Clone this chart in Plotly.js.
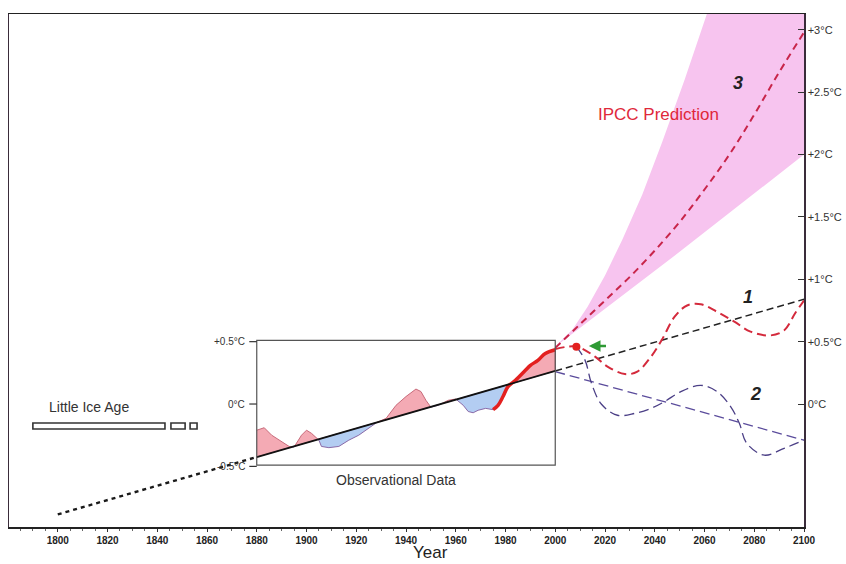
<!DOCTYPE html>
<html>
<head>
<meta charset="utf-8">
<script src="https://cdn.plot.ly/plotly-3.0.1.min.js"></script>
<style>html,body{margin:0;padding:0;background:#fff;}#chart{width:846px;height:564px;}</style>
</head>
<body>
<div id="chart"></div>
<script>
// ---------- data ----------
const xTickYears = [1800,1820,1840,1860,1880,1900,1920,1940,1960,1980,2000,2020,2040,2060,2080,2100];
const yTickValues = [0,0.5,1,1.5,2,2.5,3];
const yTickLabels = ['0°C','+0.5°C','+1°C','+1.5°C','+2°C','+2.5°C','+3°C'];
const insetTickValues = [-0.5,0,0.5];
const insetTickLabels = ['-0.5°C','0°C','+0.5°C'];

// observational anomaly (inset)
const obsYears = [1880,1883,1886,1890,1893,1895,1898,1900,1902,1905,1906,1909,1913,1917,1921,1925,1928,1932,1936,1940,1944,1946,1948,1950,1953,1957,1960,1963,1965,1967,1969,1972,1975,1977,1979,1981,1984,1988,1990,1993,1996,2000];
const obsTemps = [-0.21,-0.19,-0.25,-0.30,-0.34,-0.345,-0.25,-0.21,-0.235,-0.29,-0.34,-0.35,-0.34,-0.29,-0.25,-0.195,-0.15,-0.115,-0.01,0.06,0.12,0.10,0.03,-0.025,-0.01,0.03,0.04,-0.01,-0.06,-0.07,-0.05,-0.035,-0.045,-0.01,0.06,0.14,0.19,0.27,0.31,0.35,0.405,0.435];
const recentStartYear = 1975;   // thick red part of the record

// long-term linear trend
const trendYears = [1800,2100];
const trendTemps = [-0.885,0.84];
const insetYears = [1880,2000];
const insetTemps = [-0.49,0.51];

// scenario 1 (red wave)
const s1Years = [2000,2008.5,2016,2021,2028,2033,2038.5,2043,2048,2053,2058.5,2065,2072,2078.5,2086.5,2092,2096.5,2100];
const s1Temps = [0.44,0.46,0.38,0.30,0.24,0.26,0.38,0.52,0.70,0.79,0.80,0.74,0.66,0.58,0.55,0.59,0.73,0.83];
// scenario 2 (purple wave and its straight decline)
const s2Years = [2008.5,2012,2014.5,2018.5,2025,2032,2038.5,2044,2050.5,2058.5,2065,2070.5,2074,2077,2084,2092,2100];
const s2Temps = [0.46,0.35,0.17,0.0,-0.09,-0.075,-0.035,0.02,0.10,0.15,0.10,-0.02,-0.155,-0.315,-0.41,-0.355,-0.29];
const s2LineYears = [2000,2100];
const s2LineTemps = [0.26,-0.29];
// scenario 3 (IPCC)
const ipccYears = [2000,2010,2020,2030,2040,2050,2060,2070,2080,2090,2100];
const ipccTemps = [0.45,0.64,0.83,1.02,1.23,1.46,1.72,2.00,2.32,2.66,2.98];
const fanUpperYears = [2000,2007,2013,2020,2027,2035,2043,2052,2061,2080,2100];
const fanUpperTemps = [0.46,0.60,0.78,1.03,1.32,1.68,2.10,2.60,3.13,4.30,5.60];
const fanLowerYears = [2000,2050,2100];
const fanLowerTemps = [0.46,1.22,2.00];
// current observation
const nowYear = [2008.5];
const nowTemp = [0.46];
const arrowYears = [2021, 2013.5];
const arrowTemp = 0.465;
// Little Ice Age bars
const liaStart = [1790,1845.5,1853.2];
const liaEnd = [1843.1,1851.2,1856];

// ---------- helpers ----------
function interp(xs, ys, x){
  for(let i=0;i<xs.length-1;i++){
    if(x>=xs[i] && x<=xs[i+1]){ return ys[i]+(ys[i+1]-ys[i])*(x-xs[i])/(xs[i+1]-xs[i]); }
  }
  return x<xs[0]?ys[0]:ys[ys.length-1];
}
const trendAt = x => interp(trendYears, trendTemps, x);

// split observational record into warm/cool segments relative to trend
const segs = [];
let cur = {x:[obsYears[0]], y:[obsTemps[0]], s:0};
for(let i=0;i<obsYears.length;i++){
  const d = obsTemps[i]-trendAt(obsYears[i]);
  if(i>0){
    const dp = obsTemps[i-1]-trendAt(obsYears[i-1]);
    if(dp*d<0){
      const xc = obsYears[i-1]+(obsYears[i]-obsYears[i-1])*dp/(dp-d);
      const yc = trendAt(xc);
      cur.x.push(xc); cur.y.push(yc); segs.push(cur);
      cur = {x:[xc], y:[yc], s:0};
    }
    cur.x.push(obsYears[i]); cur.y.push(obsTemps[i]);
  }
  cur.s += d;
}
segs.push(cur);

const traces = [];
// IPCC fan
traces.push({
  x: fanUpperYears.concat(fanLowerYears.slice().reverse()),
  y: fanUpperTemps.concat(fanLowerTemps.slice().reverse()),
  mode:'lines', fill:'toself', fillcolor:'#f7c4ef', line:{width:0}, hoverinfo:'skip'
});
// anomaly fills
segs.forEach(sg=>{
  const warm = sg.s>=0;
  const xr = sg.x.slice().reverse();
  traces.push({
    x: sg.x.concat(xr),
    y: sg.y.concat(xr.map(trendAt)),
    mode:'lines', fill:'toself',
    fillcolor: warm ? '#f4aab4' : '#b3cdf2',
    line:{width:1, color: warm ? '#c86a7a' : '#8a6aa8'},
    hoverinfo:'skip'
  });
});
// thick red recent record
const recIdx = obsYears.map((y,i)=>i).filter(i=>obsYears[i]>=recentStartYear);
traces.push({x: recIdx.map(i=>obsYears[i]), y: recIdx.map(i=>obsTemps[i]), mode:'lines',
  line:{color:'#e3201f', width:3.5, shape:'spline'}});
// trend pieces
const tx1=[trendYears[0], insetYears[0]], tx2=[insetYears[0], insetYears[1]], tx3=[insetYears[1], trendYears[1]];
traces.push({x:tx1, y:tx1.map(trendAt), mode:'lines', line:{color:'#1a1a1a', width:2.4, dash:'4px,4px'}});
traces.push({x:tx2, y:tx2.map(trendAt), mode:'lines', line:{color:'#111', width:1.8}});
traces.push({x:tx3, y:tx3.map(trendAt), mode:'lines', line:{color:'#222', width:1.5, dash:'7px,4px'}});
// scenario 2
traces.push({x:s2LineYears, y:s2LineTemps, mode:'lines', line:{color:'#5b4c9c', width:1.3, dash:'10px,5px'}});
traces.push({x:s2Years, y:s2Temps, mode:'lines', line:{color:'#4b3f86', width:1.3, dash:'10px,5px', shape:'spline', smoothing:1}});
// scenario 1
traces.push({x:s1Years, y:s1Temps, mode:'lines', line:{color:'#d42a3c', width:2, dash:'9px,5px', shape:'spline', smoothing:1}});
// scenario 3
traces.push({x:ipccYears, y:ipccTemps, mode:'lines', line:{color:'#c8254a', width:2, dash:'7px,5px', shape:'spline'}});
// current point
traces.push({x:nowYear, y:nowTemp, mode:'markers', marker:{color:'#e3201f', size:8}});

const shapes = [];
shapes.push({type:'rect', xref:'x', yref:'y', x0:insetYears[0], x1:insetYears[1], y0:insetTemps[0], y1:insetTemps[1],
  line:{color:'#555', width:1.2}, fillcolor:'rgba(0,0,0,0)', layer:'above'});
insetTickValues.forEach(v=>shapes.push({type:'line', xref:'x', yref:'y', x0:insetYears[0]-3, x1:insetYears[0], y0:v, y1:v, line:{color:'#333', width:1.2}}));
liaStart.forEach((s,i)=>shapes.push({type:'rect', xref:'x', yref:'y', x0:s, x1:liaEnd[i], y0:-0.2, y1:-0.152,
  line:{color:'#333', width:1.6}, fillcolor:'#fff'}));

const annotations = [];
insetTickValues.forEach((v,i)=>annotations.push({x:insetYears[0]-4, y:v, xref:'x', yref:'y', text:insetTickLabels[i],
  showarrow:false, xanchor:'right', yanchor:'middle', font:{family:'Arial, Liberation Sans, sans-serif', size:10, color:'#333'}}));
annotations.push({x:1795.5, y:-0.02, xref:'x', yref:'y', text:'Little Ice Age', showarrow:false, xanchor:'left',
  font:{family:'Arial, Liberation Sans, sans-serif', size:14, color:'#333'}});
annotations.push({x:1936, y:-0.61, xref:'x', yref:'y', text:'Observational Data', showarrow:false,
  font:{family:'Arial, Liberation Sans, sans-serif', size:14, color:'#333'}});
annotations.push({x:2041.5, y:2.32, xref:'x', yref:'y', text:'IPCC Prediction', showarrow:false,
  font:{family:'Arial, Liberation Sans, sans-serif', size:17, color:'#e0283a'}});
annotations.push({x:2073.3, y:2.57, xref:'x', yref:'y', text:'<b><i>3</i></b>', showarrow:false,
  font:{family:'Arial, Liberation Sans, sans-serif', size:18, color:'#222'}});
annotations.push({x:2077.6, y:0.86, xref:'x', yref:'y', text:'<b><i>1</i></b>', showarrow:false,
  font:{family:'Arial, Liberation Sans, sans-serif', size:18, color:'#222'}});
annotations.push({x:2080.5, y:0.08, xref:'x', yref:'y', text:'<b><i>2</i></b>', showarrow:false,
  font:{family:'Arial, Liberation Sans, sans-serif', size:18, color:'#222'}});
annotations.push({x:arrowYears[1], y:arrowTemp, ax:arrowYears[0], ay:arrowTemp, xref:'x', yref:'y', axref:'x', ayref:'y',
  text:'', showarrow:true, arrowhead:2, arrowsize:0.9, arrowwidth:2.6, arrowcolor:'#2f9a35'});
// x-axis title, sitting in the gap between the 1940 and 1960 tick labels as in the reference
annotations.push({x:1950, y:0, xref:'x', yref:'paper', yshift:-36, yanchor:'bottom', text:'Year', showarrow:false,
  borderpad:0, font:{family:'"Liberation Sans Narrow", Arial, sans-serif', size:17, color:'#222'}});

const layout = {
  width:846, height:564,
  margin:{l:9, r:42, t:14, b:37},
  paper_bgcolor:'#fff', plot_bgcolor:'#fff',
  showlegend:false,
  xaxis:{
    range:[1780.4,2100], tickvals:xTickYears, ticktext:xTickYears.map(String),
    ticks:'outside', ticklen:3, tickcolor:'#333',
    minor:{dtick:5, tick0:1800, ticks:'outside', ticklen:2, tickcolor:'#666'},
    tickfont:{family:'"Liberation Sans Narrow", Arial, sans-serif', size:10, color:'#222', weight:'bold'},
    showline:true, mirror:true, linecolor:'#222', linewidth:1.5,
    showgrid:false, zeroline:false
  },
  yaxis:{
    side:'right', range:[-0.986,3.127], tickvals:yTickValues, ticktext:yTickLabels,
    ticks:'inside', ticklen:6, tickcolor:'#333',
    tickfont:{family:'Arial, Liberation Sans, sans-serif', size:11, color:'#333'},
    showline:true, mirror:true, linecolor:'#3a2c3a', linewidth:1.5,
    showgrid:false, zeroline:false
  },
  shapes:shapes, annotations:annotations
};

Plotly.newPlot('chart', traces, layout, {staticPlot:true, displayModeBar:false});
</script>
</body>
</html>
